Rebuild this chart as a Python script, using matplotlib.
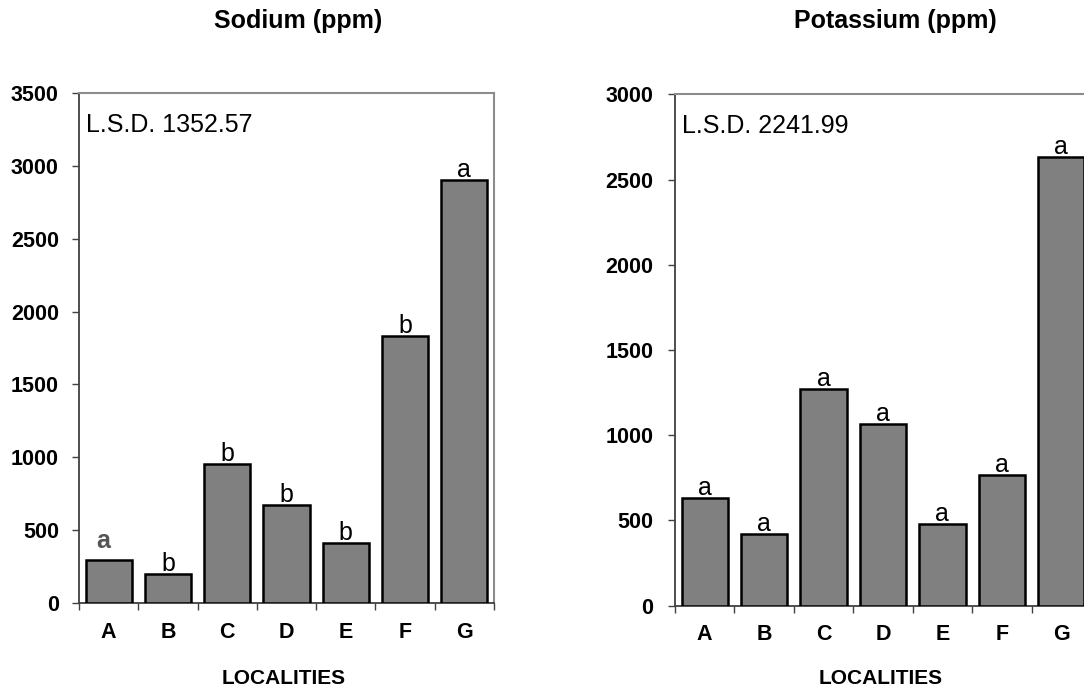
import numpy as np
import matplotlib
matplotlib.use('Agg')
import matplotlib.pyplot as plt

plt.rcParams['font.family'] = ['Liberation Sans', 'DejaVu Sans']

'~~~~~~~~~~ DATA ~~~~~~~~~~'
localities = ['A', 'B', 'C', 'D', 'E', 'F', 'G']

sodium = [295, 200, 952, 672, 410, 1832, 2905]
sodium_groups = ['a', 'b', 'b', 'b', 'b', 'b', 'a']
sodium_lsd = 'L.S.D. 1352.57'

potassium = [630, 420, 1270, 1065, 480, 766, 2630]
potassium_groups = ['a', 'a', 'a', 'a', 'a', 'a', 'a']
potassium_lsd = 'L.S.D. 2241.99'

W, H = 1084, 688
fig = plt.figure(figsize=(W / 100, H / 100), dpi=100)

# axes rectangles in pixels (left, top, right, bottom), right panel runs off the edge
ax_na = fig.add_axes([79 / W, 1 - 603 / H, (494 - 79) / W, (603 - 93) / H])
ax_k = fig.add_axes([675 / W, 1 - 605.7 / H, (1091 - 675) / W, (605.7 - 94.3) / H])


def draw_panel(ax, values, groups, lsd, ymax, ypad):
    x = np.arange(len(localities))
    bars = ax.bar(x, values, width=0.78, color='#808080', edgecolor='black',
                  linewidth=1.8, zorder=3)
    ax.set_xlim(-0.5, len(localities) - 0.5)
    ax.set_ylim(0, ymax)
    ax.set_yticks(np.arange(0, ymax + 1, 500))

    # category labels in the middle, tick marks between the bars
    ax.set_xticks(x)
    ax.set_xticklabels(localities, fontsize=15.5, fontweight='bold')
    ax.set_xticks(np.arange(-0.5, len(localities), 1), minor=True)
    ax.tick_params(axis='x', which='major', length=0, pad=13.5)
    ax.tick_params(axis='x', which='minor', length=5, width=1.0, color='#404040')
    ax.tick_params(axis='y', length=5, width=1.0, color='#404040', pad=ypad,
                   labelsize=15.5)
    for lab in ax.get_yticklabels():
        lab.set_fontweight('bold')

    for side in ['top', 'right']:
        ax.spines[side].set_color('#8c8c8c')
        ax.spines[side].set_linewidth(1.5)
    for side in ['left', 'bottom']:
        ax.spines[side].set_color('#404040')
        ax.spines[side].set_linewidth(1.3)

    for b, g in zip(bars, groups):
        ax.annotate(g, (b.get_x() + b.get_width() / 2, b.get_height()),
                    xytext=(0, 3), textcoords='offset pixels',
                    ha='center', va='baseline', fontsize=18)

    ax.text(0.018, 0.924, lsd, transform=ax.transAxes, fontsize=18,
            ha='left', va='baseline')
    return bars


draw_panel(ax_na, sodium, sodium_groups, sodium_lsd, 3500, 9.5)
draw_panel(ax_k, potassium, potassium_groups, potassium_lsd, 3000, 10.5)

# the first sodium letter is drawn grey and a bit higher in the original
first = ax_na.texts[0]
first.set_color('#555555')
first.set_fontweight('bold')
first.xyann = (-5, 12)

fig.text(298 / W, 1 - 28 / H, 'Sodium (ppm)', ha='center', va='baseline',
         fontsize=18, fontweight='bold')
fig.text(895 / W, 1 - 28 / H, 'Potassium (ppm)', ha='center', va='baseline',
         fontsize=18, fontweight='bold')

fig.text(284 / W, 1 - 684 / H, 'LOCALITIES', ha='center', va='baseline',
         fontsize=15, fontweight='bold')
fig.text(881 / W, 1 - 684 / H, 'LOCALITIES', ha='center', va='baseline',
         fontsize=15, fontweight='bold')

fig.savefig('out.png', dpi=100)
